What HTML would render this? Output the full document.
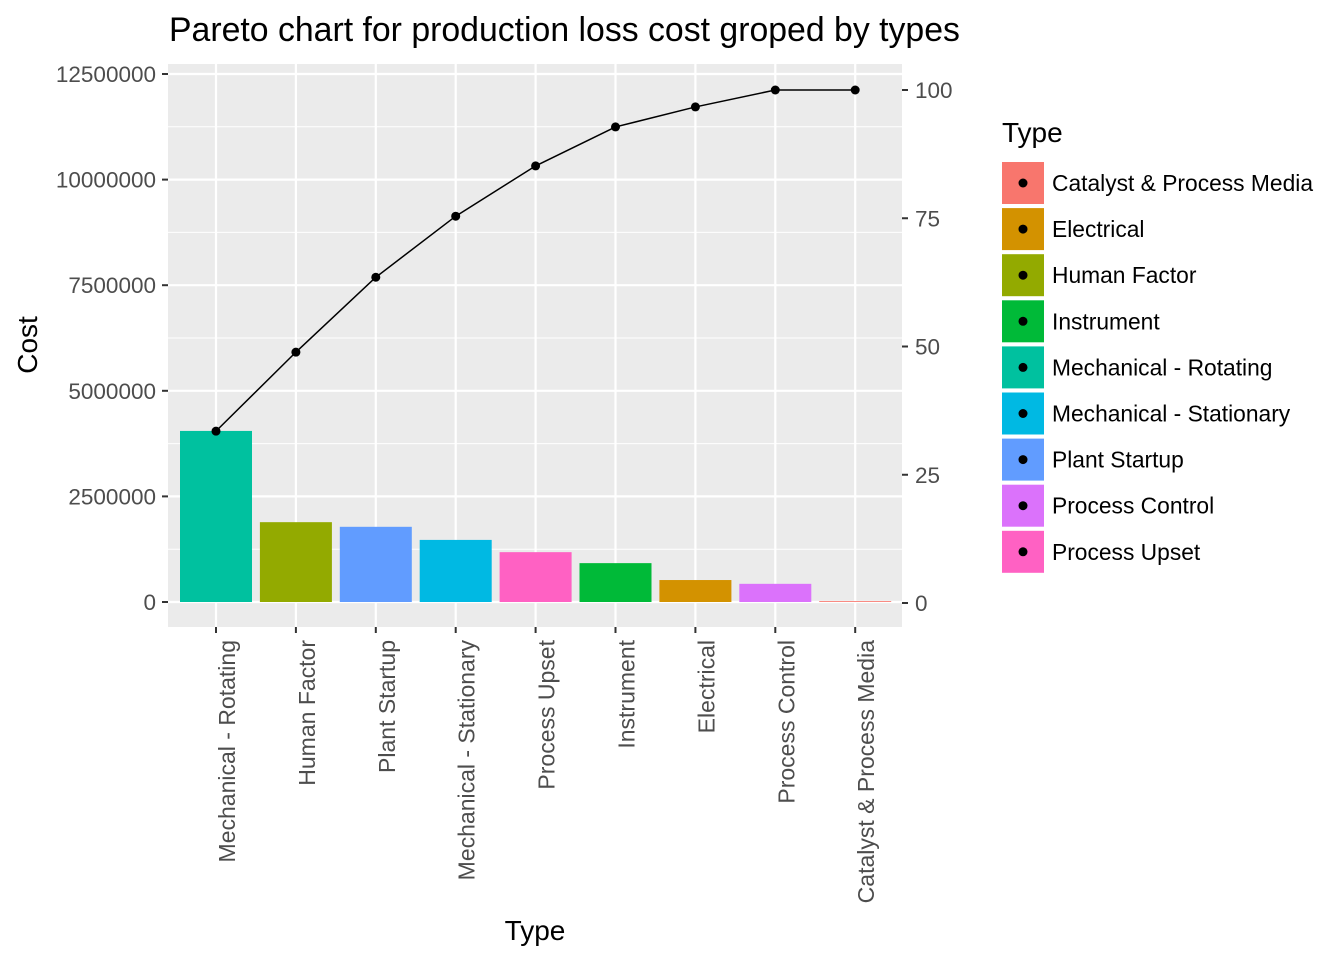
<!DOCTYPE html>
<html><head><meta charset="utf-8"><style>
body{margin:0;background:#fff;font-family:"Liberation Sans",Arial,sans-serif;}
svg text{font-family:"Liberation Sans",Arial,sans-serif;}
</style></head><body>
<svg id="chart" width="1344" height="960" xmlns="http://www.w3.org/2000/svg">
<text x="169" y="41" font-size="33.8" fill="#000">Pareto chart for production loss cost groped by types</text>
<rect x="168" y="64" width="734" height="563" fill="#EBEBEB"/>
<g id="grid"></g><g id="bars"></g><g id="line"></g><g id="axes"></g><g id="legend"></g>
<text x="535" y="940" font-size="28" text-anchor="middle" fill="#000">Type</text>
<text transform="translate(37,345) rotate(-90)" font-size="28" text-anchor="middle" fill="#000">Cost</text>
</svg>
<script>
const categories=["Mechanical - Rotating","Human Factor","Plant Startup","Mechanical - Stationary","Process Upset","Instrument","Electrical","Process Control","Catalyst & Process Media"];
const costs=[4050000,1890000,1780000,1470000,1180000,920000,520000,430000,20000];
const cumulative=[33.5,48.9,63.5,75.4,85.2,92.8,96.7,100,100];
const leftTicks=[0,2500000,5000000,7500000,10000000,12500000];
const rightTicks=[0,25,50,75,100];
const legendTypes=["Catalyst & Process Media","Electrical","Human Factor","Instrument","Mechanical - Rotating","Mechanical - Stationary","Plant Startup","Process Control","Process Upset"];
const legendColors=["#F8766D","#D39200","#93AA00","#00BA38","#00C19F","#00B9E3","#619CFF","#DB72FB","#FF61C3"];
const NS="http://www.w3.org/2000/svg";
function mk(t,a,p){const e=document.createElementNS(NS,t);for(const k in a)e.setAttribute(k,a[k]);p.appendChild(e);return e;}
const yL=v=>602-v/12500000*528;
const yR=v=>603-v/100*513;
const xC=i=>216+i*79.9;
const colorOf=c=>legendColors[legendTypes.indexOf(c)];
const grid=document.getElementById('grid');
for(let i=0;i<leftTicks.length;i++){
  const l=mk('line',{x1:168,x2:902,y1:yL(leftTicks[i]),y2:yL(leftTicks[i]),stroke:'#fff','stroke-width':2.2},grid);
  
  if(i<leftTicks.length-1){const v=(leftTicks[i]+leftTicks[i+1])/2;
    const m=mk('line',{x1:168,x2:902,y1:yL(v),y2:yL(v),stroke:'#fff','stroke-width':1},grid);
    }
}
categories.forEach((c,i)=>{const l=mk('line',{x1:xC(i),x2:xC(i),y1:64,y2:627,stroke:'#fff','stroke-width':2.2},grid);
  });
const bars=document.getElementById('bars');
categories.forEach((c,i)=>{const y=yL(costs[i]);
  const r=mk('rect',{x:xC(i)-36,y:y,width:72,height:Math.max(602-y,0.8),fill:colorOf(c)},bars);
  });
const lg=document.getElementById('line');
const pl=mk('polyline',{points:cumulative.map((v,i)=>xC(i)+','+yR(v)).join(' '),fill:'none',stroke:'#000','stroke-width':1.5},lg);

cumulative.forEach((v,i)=>{const p=mk('circle',{cx:xC(i),cy:yR(v),r:4.5,fill:'#000'},lg);
  });
const ax=document.getElementById('axes');
leftTicks.forEach(v=>{mk('line',{x1:162,x2:168,y1:yL(v),y2:yL(v),stroke:'#333','stroke-width':2},ax);
  const t=mk('text',{x:156,y:yL(v)+8,'font-size':22.5,'text-anchor':'end',fill:'#4D4D4D'},ax);t.textContent=v;
  });
rightTicks.forEach(v=>{mk('line',{x1:902,x2:908,y1:yR(v),y2:yR(v),stroke:'#333','stroke-width':2},ax);
  const t=mk('text',{x:915,y:yR(v)+8,'font-size':22.5,fill:'#4D4D4D'},ax);t.textContent=v;
  });
categories.forEach((c,i)=>{mk('line',{x1:xC(i),x2:xC(i),y1:627,y2:633,stroke:'#333','stroke-width':2},ax);
  const t=mk('text',{transform:`translate(${xC(i)+19},640) rotate(-90)`,'font-size':23,'text-anchor':'end',fill:'#4D4D4D'},ax);t.textContent=c;
  });
const leg=document.getElementById('legend');
const tt=mk('text',{x:1002,y:142,'font-size':28,fill:'#000'},leg);tt.textContent='Type';

legendTypes.forEach((c,i)=>{const y=162+i*46.1;
  const r=mk('rect',{x:1002,y:y,width:42,height:42,fill:legendColors[i]},leg);
  
  mk('circle',{cx:1023,cy:y+21,r:4.5,fill:'#000'},leg);
  const t=mk('text',{x:1052,y:y+29,'font-size':22.8,fill:'#000'},leg);t.textContent=c;
  });
</script>
</body></html>
